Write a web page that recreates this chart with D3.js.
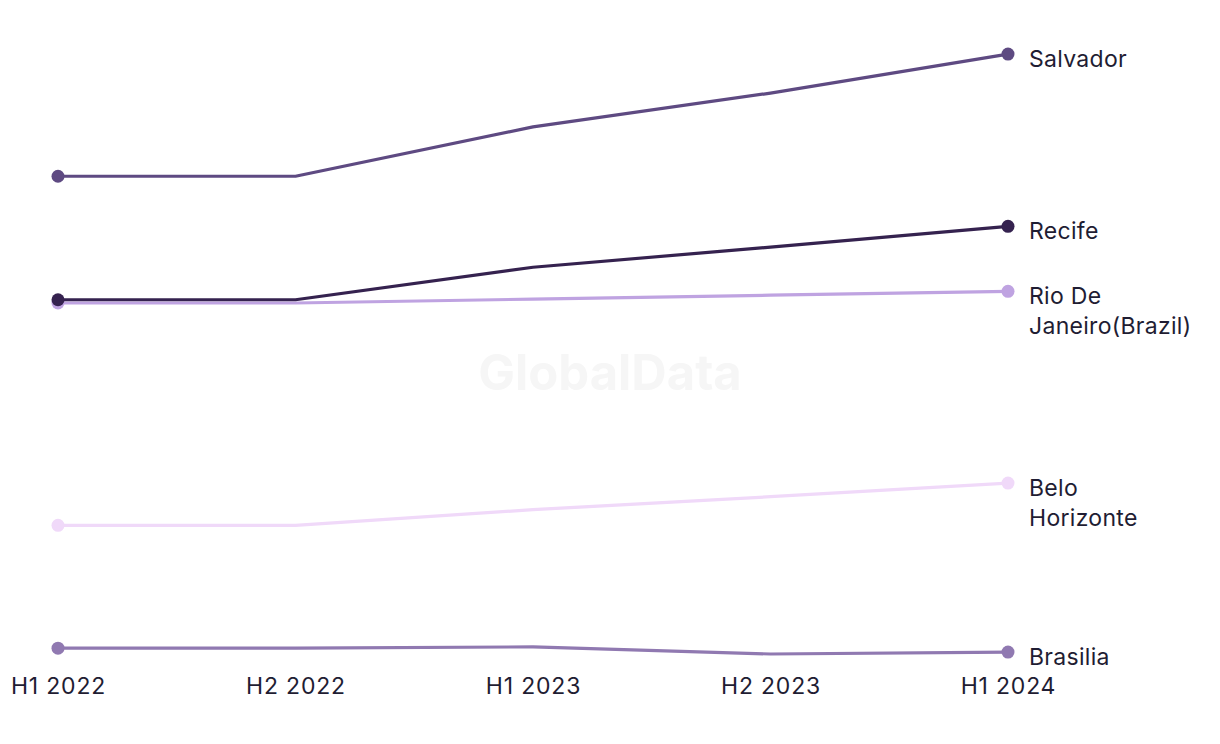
<!DOCTYPE html>
<html>
<head>
<meta charset="utf-8">
<script src="https://cdn.jsdelivr.net/npm/d3@7"></script>
<style>
  html, body { margin: 0; padding: 0; background: #ffffff; }
  svg { display: block; }
  text { font-family: Inter, "Noto Sans", sans-serif; }
</style>
</head>
<body>
<svg id="chart" width="1220" height="744"></svg>
<script>
const periods = ["H1 2022", "H2 2022", "H1 2023", "H2 2023", "H1 2024"];
const cities = ["Salvador", "Recife", "Rio De Janeiro(Brazil)", "Belo Horizonte", "Brasilia"];
const salvador = [77.5, 77.5, 85.1, 90.3, 96.3];
const recife = [58.5, 58.5, 63.5, 66.6, 69.8];
const rio = [58.0, 58.0, 58.6, 59.2, 59.8];
const belo = [23.8, 23.8, 26.2, 28.2, 30.3];
const brasilia = [4.9, 4.9, 5.1, 4.0, 4.3];
const labelLines = [["Salvador"], ["Recife"], ["Rio De", "Janeiro(Brazil)"], ["Belo", "Horizonte"], ["Brasilia"]];
const colors = ["#5e4a82", "#35224f", "#bfa3e1", "#f0d9f9", "#9079b1"];

const seriesValues = [salvador, recife, rio, belo, brasilia];
const series = cities.map((c, i) => ({ name: c, values: seriesValues[i], color: colors[i], lines: labelLines[i] }));

const svg = d3.select("#chart");
const x = d3.scalePoint().domain(periods).range([58, 1008]);
const y = d3.scaleLinear().domain([0, 100]).range([680, 30]);

// watermark
svg.append("text")
  .attr("x", 610).attr("y", 390)
  .attr("text-anchor", "middle")
  .attr("font-size", 49).attr("font-weight", 700)
  .attr("fill", "#f6f6f6")
  .text("GlobalData");

const line = d3.line().x((d, i) => x(periods[i])).y(d => y(d));

const order = [4, 3, 2, 0, 1];
order.forEach(i => {
  const s = series[i];
  const g = svg.append("g");
  g.append("path")
    .attr("d", line(s.values))
    .attr("fill", "none")
    .attr("stroke", s.color)
    .attr("stroke-width", 3.2)
    .attr("stroke-linejoin", "round");
  [0, s.values.length - 1].forEach(k => {
    g.append("circle")
      .attr("cx", x(periods[k]))
      .attr("cy", y(s.values[k]))
      .attr("r", 6.5)
      .attr("fill", s.color);
  });
  const last = s.values[s.values.length - 1];
  const t = g.append("text")
    .attr("x", 1029)
    .attr("y", y(last) + 13)
    .attr("font-size", 23)
    .attr("letter-spacing", 0.3)
    .attr("fill", "#1f1d33");
  s.lines.forEach((ln, j) => {
    t.append("tspan").attr("x", 1029).attr("dy", j === 0 ? 0 : 30).text(ln);
  });
});

// x axis
const xAxis = d3.axisBottom(x).tickSize(0).tickPadding(0);
const ax = svg.append("g").attr("transform", "translate(0,694)").call(xAxis);
ax.select(".domain").remove();
ax.selectAll("text")
  .attr("font-size", 23)
  .attr("letter-spacing", 0.8)
  .attr("font-family", "Inter, 'Noto Sans', sans-serif")
  .attr("fill", "#1f1d33")
  .attr("dy", 0);
</script>
</body>
</html>
